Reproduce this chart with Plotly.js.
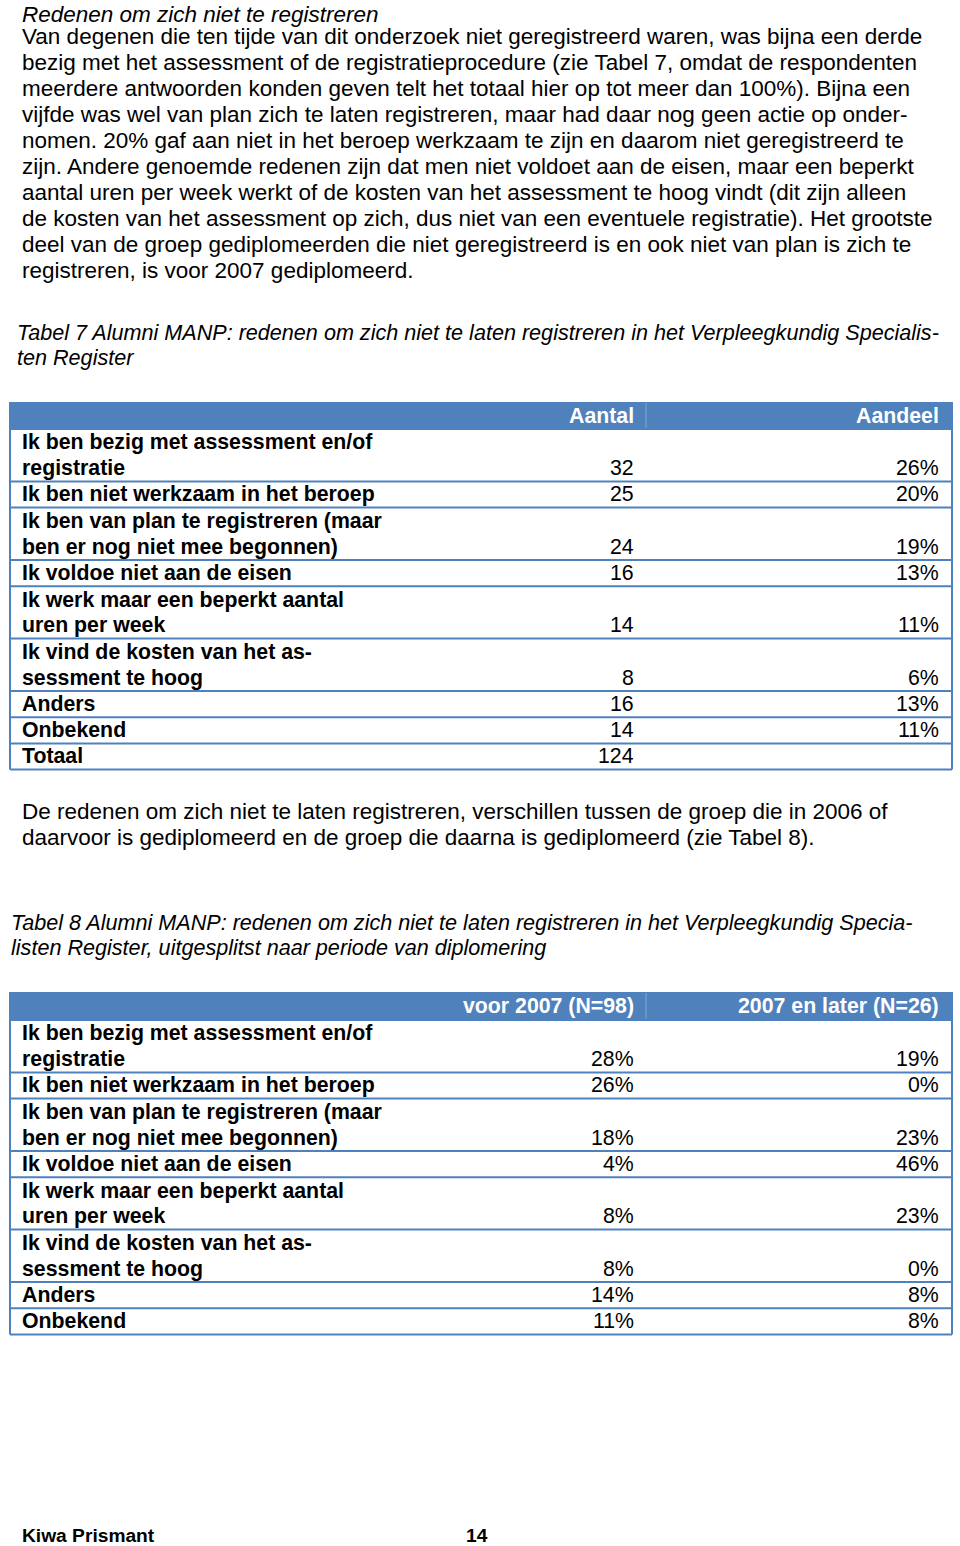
<!DOCTYPE html>
<html><head><meta charset="utf-8">
<script src="https://cdn.plot.ly/plotly-3.0.1.min.js"></script>
<style>html,body{margin:0;padding:0;background:#fff}</style>
</head><body><div id="chart" style="width:960px;height:1546px"></div>
<script>
// ---------- data ----------
const introTitle = "Redenen om zich niet te registreren";
const introLines = [
  "Van degenen die ten tijde van dit onderzoek niet geregistreerd waren, was bijna een derde",
  "bezig met het assessment of de registratieprocedure (zie Tabel 7, omdat de respondenten",
  "meerdere antwoorden konden geven telt het totaal hier op tot meer dan 100%). Bijna een",
  "vijfde was wel van plan zich te laten registreren, maar had daar nog geen actie op onder-",
  "nomen. 20% gaf aan niet in het beroep werkzaam te zijn en daarom niet geregistreerd te",
  "zijn. Andere genoemde redenen zijn dat men niet voldoet aan de eisen, maar een beperkt",
  "aantal uren per week werkt of de kosten van het assessment te hoog vindt (dit zijn alleen",
  "de kosten van het assessment op zich, dus niet van een eventuele registratie). Het grootste",
  "deel van de groep gediplomeerden die niet geregistreerd is en ook niet van plan is zich te",
  "registreren, is voor 2007 gediplomeerd."
];
const tabel7Caption = [
  "Tabel 7 Alumni MANP: redenen om zich niet te laten registreren in het Verpleegkundig Specialis-",
  "ten Register"
];
const tabel7Header = ["", "Aantal", "Aandeel"];
const tabel7Labels = [
  "Ik ben bezig met assessment en/of<br>registratie",
  "Ik ben niet werkzaam in het beroep",
  "Ik ben van plan te registreren (maar<br>ben er nog niet mee begonnen)",
  "Ik voldoe niet aan de eisen",
  "Ik werk maar een beperkt aantal<br>uren per week",
  "Ik vind de kosten van het as-<br>sessment te hoog",
  "Anders",
  "Onbekend",
  "Totaal"
];
const tabel7Aantal = [32, 25, 24, 16, 14, 8, 16, 14, 124];
const tabel7Aandeel = [26, 20, 19, 13, 11, 6, 13, 11, null];

const middleLines = [
  "De redenen om zich niet te laten registreren, verschillen tussen de groep die in 2006 of",
  "daarvoor is gediplomeerd en de groep die daarna is gediplomeerd (zie Tabel 8)."
];
const tabel8Caption = [
  "Tabel 8 Alumni MANP: redenen om zich niet te laten registreren in het Verpleegkundig Specia-",
  "listen Register, uitgesplitst naar periode van diplomering"
];
const tabel8Header = ["", "voor 2007 (N=98)", "2007 en later (N=26)"];
const tabel8Labels = [
  "Ik ben bezig met assessment en/of<br>registratie",
  "Ik ben niet werkzaam in het beroep",
  "Ik ben van plan te registreren (maar<br>ben er nog niet mee begonnen)",
  "Ik voldoe niet aan de eisen",
  "Ik werk maar een beperkt aantal<br>uren per week",
  "Ik vind de kosten van het as-<br>sessment te hoog",
  "Anders",
  "Onbekend"
];
const tabel8Voor = [28, 26, 18, 4, 8, 8, 14, 11];
const tabel8Later = [19, 0, 23, 46, 23, 0, 8, 8];

const footerLeft = "Kiwa Prismant";
const footerPage = "14";

// ---------- styling / layout ----------
const FONT = "Liberation Sans, Arial, Helvetica, sans-serif";
const BLUE = "#4F81BD";
const FS_BODY = 22.5, FS_CAP = 21.6, FS_TAB = 21.3, FS_FOOT = 19.2;
const shapes = [];
const annotations = [];

function txt(x, y, text, opt) {
  opt = opt || {};
  annotations.push({
    xref: "x", yref: "y", x: x, y: y, text: text, showarrow: false,
    xanchor: opt.xanchor || "left", yanchor: opt.yanchor || "middle",
    align: opt.xanchor === "right" ? "right" : "left", borderpad: 0,
    font: {family: FONT, size: opt.size || FS_BODY, color: opt.color || "#000",
           weight: opt.weight || "normal", style: opt.style || "normal"}
  });
}
function line(x0, y0, x1, y1, color, w) {
  shapes.push({type: "line", xref: "x", yref: "y", x0: x0, y0: y0, x1: x1, y1: y1,
               line: {color: color, width: w}});
}
function pct(v) { return v === null ? "" : v + "%"; }

function buildTable(cfg) {
  const L = cfg.left, R = cfg.right, top = cfg.top, hH = cfg.headerH, lh = cfg.lineH;
  const hb = top + hH;
  shapes.push({type: "rect", xref: "x", yref: "y", x0: L, x1: R, y0: top, y1: hb,
               fillcolor: BLUE, line: {width: 0}, layer: "below"});
  line(cfg.sepX, top + 1, cfg.sepX, hb, "#86A6D2", 1);
  cfg.header.forEach(function (h, i) {
    if (i > 0 && h) txt(cfg.colRight[i - 1], top + hH / 2, h,
      {xanchor: "right", color: "#fff", weight: "bold", size: FS_TAB});
  });
  let y = hb;
  line(L, hb, R, hb, BLUE, 2);
  cfg.labels.forEach(function (lab, r) {
    const parts = lab.split("<br>");
    const n = parts.length;
    const bottom = y + n * lh;
    const base = bottom - 13.5;
    parts.forEach(function (p, i) {
      txt(cfg.labelX, base - (n - 1 - i) * 25.5, p, {weight: "bold", size: FS_TAB});
    });
    cfg.columns.forEach(function (col, c) {
      if (col[r] !== "") txt(cfg.colRight[c], base, col[r], {xanchor: "right", size: FS_TAB});
    });
    line(L, bottom, R, bottom, BLUE, 2);
    y = bottom;
  });
  line(L, top, L, y, BLUE, 2);
  line(R, top, R, y, BLUE, 2);
}

// intro text
txt(21, 0.5, introTitle, {style: "italic", yanchor: "top"});
introLines.forEach(function (s, i) { txt(21, 36 + 26 * i, s); });

// Tabel 7
tabel7Caption.forEach(function (s, i) { txt(16, 332 + 25 * i, s, {style: "italic", size: FS_CAP}); });
buildTable({
  left: 10, right: 952, top: 402, headerH: 27, lineH: 26.2, sepX: 646,
  labelX: 21, colRight: [635, 940],
  header: tabel7Header, labels: tabel7Labels,
  columns: [tabel7Aantal.map(String), tabel7Aandeel.map(pct)]
});

// middle text
middleLines.forEach(function (s, i) { txt(21, 811 + 26 * i, s); });

// Tabel 8
tabel8Caption.forEach(function (s, i) { txt(10, 922 + 25 * i, s, {style: "italic", size: FS_CAP}); });
buildTable({
  left: 10, right: 952, top: 992, headerH: 28, lineH: 26.2, sepX: 646,
  labelX: 21, colRight: [635, 940],
  header: tabel8Header, labels: tabel8Labels,
  columns: [tabel8Voor.map(pct), tabel8Later.map(pct)]
});

// footer
txt(21, 1535, footerLeft, {weight: "bold", size: FS_FOOT});
txt(489, 1535, footerPage, {weight: "bold", size: FS_FOOT, xanchor: "right"});

const layout = {
  width: 960, height: 1546,
  margin: {l: 0, r: 0, t: 0, b: 0},
  paper_bgcolor: "#fff", plot_bgcolor: "#fff",
  showlegend: false,
  xaxis: {range: [0, 960], visible: false, fixedrange: true},
  yaxis: {range: [1546, 0], visible: false, fixedrange: true},
  shapes: shapes, annotations: annotations
};
Plotly.newPlot("chart", [{x: [], y: [], type: "scatter", hoverinfo: "skip"}], layout,
  {staticPlot: true, displayModeBar: false});
</script></body></html>
